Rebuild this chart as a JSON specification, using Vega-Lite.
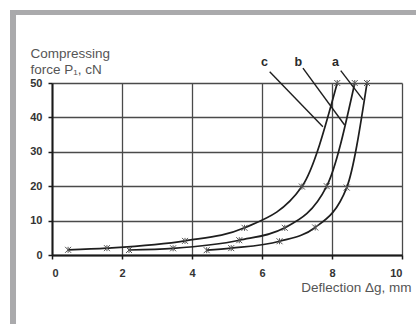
{
  "$schema": "https://vega.github.io/schema/vega-lite/v6.json",
  "width": 350,
  "height": 172,
  "autosize": "none",
  "padding": {"left": 52, "top": 83, "right": 14, "bottom": 69},
  "background": "white",
  "config": {"view": {"stroke": null}, "font": "Liberation Sans"},
  "datasets": {
    "curves": [
      {"curve": "c", "x": 0.46, "y": 1.5},
      {"curve": "c", "x": 1.57, "y": 2.0},
      {"curve": "c", "x": 3.8, "y": 4.1},
      {"curve": "c", "x": 5.5, "y": 7.9},
      {"curve": "c", "x": 7.14, "y": 19.9},
      {"curve": "c", "x": 8.15, "y": 50},
      {"curve": "b", "x": 2.2, "y": 1.45},
      {"curve": "b", "x": 3.46, "y": 1.95},
      {"curve": "b", "x": 5.35, "y": 4.3},
      {"curve": "b", "x": 6.65, "y": 7.9},
      {"curve": "b", "x": 7.85, "y": 20},
      {"curve": "b", "x": 8.65, "y": 50},
      {"curve": "a", "x": 4.42, "y": 1.4},
      {"curve": "a", "x": 5.12, "y": 2.0},
      {"curve": "a", "x": 6.5, "y": 4.0},
      {"curve": "a", "x": 7.52, "y": 8.0},
      {"curve": "a", "x": 8.42, "y": 19.6},
      {"curve": "a", "x": 9.0, "y": 50}
    ],
    "leaders": [
      {"label": "c", "x": 6.22, "y": 53.3, "x2": 7.74, "y2": 37.3},
      {"label": "b", "x": 7.17, "y": 54.3, "x2": 8.36, "y2": 37.8},
      {"label": "a", "x": 8.25, "y": 53.6, "x2": 8.89, "y2": 45.1}
    ],
    "labels": [
      {"label": "c", "x": 6.07, "y": 56.2},
      {"label": "b", "x": 7.04, "y": 56.2},
      {"label": "a", "x": 8.1, "y": 56.2}
    ],
    "frameTop": [{"x": -1.2, "x2": 10.6, "y": 70.5}],
    "frameLeft": [{"x": -1.114, "y": 71.2, "y2": -22}]
  },
  "encoding": {
    "x": {
      "field": "x",
      "type": "quantitative",
      "scale": {"domain": [0, 10], "nice": false, "zero": false},
      "axis": {
        "values": [0, 2, 4, 6, 8, 10],
        "grid": true,
        "gridColor": "#4a4a4a",
        "gridWidth": 1.3,
        "domainColor": "#1a1a1a",
        "domainWidth": 2,
        "tickColor": "#1a1a1a",
        "tickWidth": 1.5,
        "tickSize": 4,
        "labelPadding": 8,
        "labelFontSize": 11,
        "labelFontWeight": "bold",
        "labelColor": "#333333",
        "title": "Deflection Δg, mm",
        "titleFontSize": 13.5,
        "titleFontWeight": "normal",
        "titleColor": "#555555",
        "titleAlign": "right",
        "titleAnchor": null,
        "titleBaseline": "alphabetic",
        "titleX": 359,
        "titleY": 36.5
      }
    },
    "y": {
      "field": "y",
      "type": "quantitative",
      "scale": {"domain": [0, 50], "nice": false, "zero": false},
      "axis": {
        "values": [0, 10, 20, 30, 40, 50],
        "grid": true,
        "gridColor": "#4a4a4a",
        "gridWidth": 1.3,
        "domainColor": "#1a1a1a",
        "domainWidth": 2,
        "tickColor": "#1a1a1a",
        "tickWidth": 1.5,
        "tickSize": 4,
        "labelPadding": 6,
        "labelFontSize": 11,
        "labelFontWeight": "bold",
        "labelColor": "#333333",
        "title": ["Compressing", "force P₁, cN"],
        "titleFontSize": 13.5,
        "titleFontWeight": "normal",
        "titleColor": "#555555",
        "titleAngle": 0,
        "titleAlign": "left",
        "titleAnchor": null,
        "titleBaseline": "alphabetic",
        "titleLineHeight": 16,
        "titleX": -22,
        "titleY": -25.5
      }
    }
  },
  "layer": [
    {
      "data": {"name": "frameTop"},
      "mark": {"type": "rule", "color": "#aaaaac", "strokeWidth": 5},
      "encoding": {"x2": {"field": "x2"}}
    },
    {
      "data": {"name": "frameLeft"},
      "mark": {"type": "rule", "color": "#aaaaac", "strokeWidth": 6},
      "encoding": {"y2": {"field": "y2"}}
    },
    {
      "data": {"name": "curves"},
      "mark": {"type": "line", "interpolate": "monotone", "color": "#1e1e1e", "strokeWidth": 1.7},
      "encoding": {"detail": {"field": "curve"}}
    },
    {
      "data": {"name": "curves"},
      "mark": {
        "type": "point",
        "shape": "M-1,-1L1,1M-1,1L1,-1M0,-1L0,1",
        "size": 36,
        "filled": false,
        "color": "#555555",
        "strokeWidth": 1,
        "opacity": 1
      },
      "encoding": {"detail": {"field": "curve"}}
    },
    {
      "data": {"name": "leaders"},
      "mark": {"type": "rule", "color": "#1e1e1e", "strokeWidth": 1.4},
      "encoding": {"x2": {"field": "x2"}, "y2": {"field": "y2"}}
    },
    {
      "data": {"name": "labels"},
      "mark": {"type": "text", "fontSize": 12.5, "fontWeight": "bold", "color": "#2a2a2a", "baseline": "middle", "align": "center"},
      "encoding": {"text": {"field": "label"}}
    }
  ]
}
